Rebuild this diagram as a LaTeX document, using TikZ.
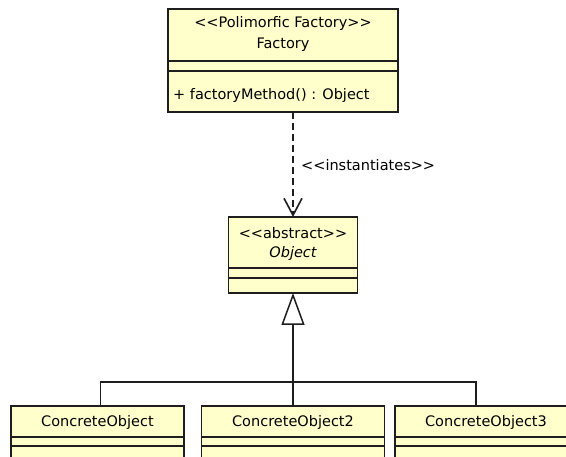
\documentclass[tikz,border=0pt]{standalone}
\usepackage{fontspec}
\setmainfont{DejaVu Sans}
\usetikzlibrary{arrows.meta}
\definecolor{classfill}{RGB}{255,255,204}
\definecolor{edge}{RGB}{30,30,30}
\begin{document}
\begin{tikzpicture}[x=1pt,y=-1pt,
  classbox/.style={draw=edge, fill=classfill, line width=1.5pt, rectangle, inner sep=0pt, outer sep=0pt, anchor=north west},
  lbl/.style={font=\fontsize{14.5}{17}\selectfont, inner sep=0pt, text=black},
  sepline/.style={draw=edge, line width=1.5pt},
  conn/.style={draw=edge, line width=1.6pt}]
\useasboundingbox (0,0) rectangle (566,457);
\clip (0,0) rectangle (566,457);
\fill[white] (0,0) rectangle (566,457);

% Factory class
\node[classbox, minimum width=230pt, minimum height=103pt] (factory) at (168,9) {};
\draw[sepline] (168,61) -- (398,61);
\draw[sepline] (168,71) -- (398,71);
\node[lbl] (fst) at (283,24) {<{}<Polimorfic Factory>{}>};
\node[lbl] (fname) at (283,45) {Factory};
\node[lbl, anchor=west] (fop) at (173,96) {+ factoryMethod() : Object};

% Object class
\node[classbox, minimum width=129pt, minimum height=76pt] (obj) at (228.5,217) {};
\draw[sepline] (228.5,268) -- (357.5,268);
\draw[sepline] (228.5,278) -- (357.5,278);
\node[lbl] (ost) at (293,233) {<{}<abstract>{}>};
\node[lbl] (oname) at (293,254) {\itshape Object};

% Concrete classes
\node[classbox, minimum width=173pt, minimum height=70pt] (c1) at (11,406) {};
\node[classbox, minimum width=183pt, minimum height=70pt] (c2) at (201.5,406) {};
\node[classbox, minimum width=182pt, minimum height=70pt] (c3) at (395,406) {};
\draw[sepline] (11,437) -- (184,437);
\draw[sepline] (11,446) -- (184,446);
\draw[sepline] (201.5,437) -- (384.5,437);
\draw[sepline] (201.5,446) -- (384.5,446);
\draw[sepline] (395,437) -- (577,437);
\draw[sepline] (395,446) -- (577,446);
\node[lbl] (c1n) at (97.5,423) {ConcreteObject};
\node[lbl] (c2n) at (293,423) {ConcreteObject2};
\node[lbl] (c3n) at (486,423) {ConcreteObject3};

% instantiates dependency
\draw[conn, dash pattern=on 7pt off 4pt, -{Straight Barb[length=17pt, width=18pt, line width=1.6pt]}]
  (factory.south -| obj.north) -- (obj.north);
\node[lbl, anchor=west] (dep) at (301,165) {<{}<instantiates>{}>};

% generalization
\coordinate (jn) at (obj.south |- 0,382);
\draw[conn, -{Triangle[open, length=32pt, width=23pt, line width=1.5pt]}] (jn) -- (obj.south);
\draw[conn] (jn) -| ([xshift=3pt]c1.north);
\draw[conn] (jn) -- (jn |- c2.north);
\draw[conn] (jn) -| ([xshift=81pt]c3.north west);
\end{tikzpicture}
\end{document}
